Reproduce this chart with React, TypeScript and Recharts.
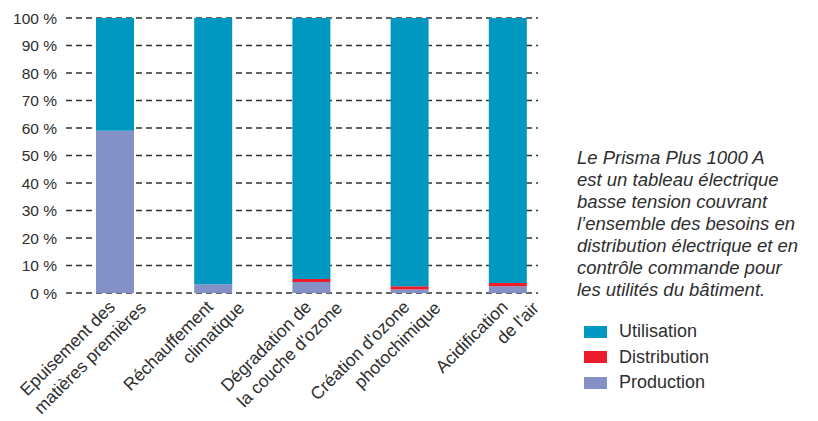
import { BarChart, Bar, XAxis, YAxis, CartesianGrid, Legend } from 'recharts'

const categories = [
  'Epuisement des\nmatières premières',
  'Réchauffement\nclimatique',
  'Dégradation de\nla couche d\'ozone',
  'Création d\'ozone\nphotochimique',
  'Acidification\nde l\'air',
]
const production = [59, 3.2, 4.0, 1.3, 2.5]
const distribution = [0, 0, 1.1, 1.2, 1.1]
const utilisation = [41, 96.8, 94.9, 97.5, 96.4]
const yTicks = [0, 10, 20, 30, 40, 50, 60, 70, 80, 90, 100]
const legendOrder = ['Utilisation', 'Distribution', 'Production']

const note = [
  'Le Prisma Plus 1000 A',
  'est un tableau électrique',
  'basse tension couvrant',
  'l\u2019ensemble des besoins en',
  'distribution électrique et en',
  'contrôle commande pour',
  'les utilités du bâtiment.',
]

const FONT = '"Liberation Sans", Arial, Helvetica, sans-serif'
const TEXT = '#2e2e2e'

const data = categories.map((name, i) => ({
  name,
  Production: production[i],
  Distribution: distribution[i],
  Utilisation: utilisation[i],
}))

// two-line label, each line rotated on its own anchor
function CategoryTick({ x, y, payload }: any) {
  const lines = String(payload.value).split('\n')
  return (
    <g>
      {lines.map((line, i) => {
        const ax = x + 1 + i * 31
        const ay = y + 15 + i * 1
        return (
          <text
            key={i}
            x={ax}
            y={ay}
            transform={`rotate(-45 ${ax} ${ay})`}
            textAnchor="end"
            fontSize={17.5}
            fontFamily={FONT}
            fill={TEXT}
          >
            {line}
          </text>
        )
      })}
    </g>
  )
}

function LegendList({ payload }: any) {
  const items = legendOrder
    .map((k) => (payload || []).find((p: any) => p.value === k))
    .filter(Boolean)
  return (
    <div style={{ fontFamily: FONT, fontSize: 18, color: TEXT }}>
      {items.map((p: any) => (
        <div key={p.value} style={{ display: 'flex', alignItems: 'center', height: 25.5 }}>
          <span style={{ display: 'inline-block', width: 23, height: 12, background: p.color, marginRight: 12 }} />
          <span>{p.value}</span>
        </div>
      ))}
    </div>
  )
}

export default function App() {
  return (
    <div style={{ position: 'absolute', left: 0, top: 0, width: 818, height: 421, background: '#fff' }}>
      <BarChart
        width={818}
        height={421}
        data={data}
        margin={{ top: 18, right: 280, bottom: 0, left: 0 }}
      >
        <CartesianGrid vertical={false} stroke="#333" strokeDasharray="6 4" strokeWidth={1.3} />
        <XAxis
          dataKey="name"
          height={128}
          axisLine={false}
          tickLine={false}
          tickSize={0}
          tickMargin={0}
          interval={0}
          padding={{ left: 0, right: -19 }}
          tick={<CategoryTick />}
        />
        <YAxis
          width={66}
          domain={[0, 100]}
          ticks={yTicks}
          axisLine={false}
          tickLine={false}
          tickSize={0}
          tickMargin={9}
          tickFormatter={(v) => `${v} %`}
          tick={{ fontSize: 15.5, fontFamily: FONT, fill: TEXT }}
        />
        <Legend
          layout="vertical"
          align="center"
          verticalAlign="middle"
          content={<LegendList />}
          wrapperStyle={{ left: 584, top: 319, width: 200 }}
        />
        <Bar dataKey="Production" stackId="a" fill="#8491c7" barSize={38} isAnimationActive={false} />
        <Bar dataKey="Distribution" stackId="a" fill="#ec1c2a" barSize={38} isAnimationActive={false} />
        <Bar dataKey="Utilisation" stackId="a" fill="#0098c1" barSize={38} isAnimationActive={false} />
      </BarChart>
      <div
        style={{
          position: 'absolute',
          left: 577,
          top: 147,
          fontFamily: FONT,
          fontSize: 18.5,
          fontStyle: 'italic',
          lineHeight: '22px',
          color: TEXT,
          whiteSpace: 'nowrap',
        }}
      >
        {note.map((l) => (
          <div key={l}>{l}</div>
        ))}
      </div>
    </div>
  )
}
